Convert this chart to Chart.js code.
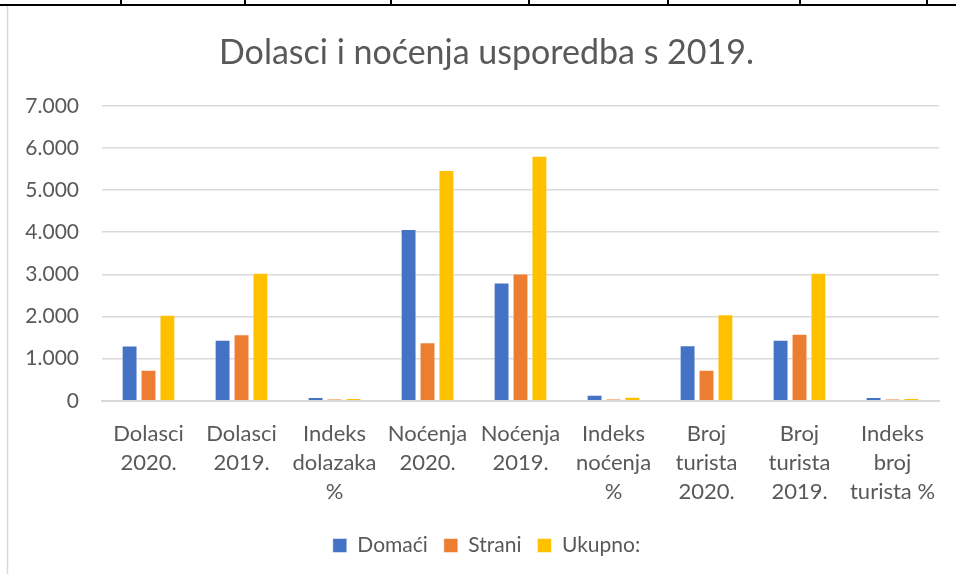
<!DOCTYPE html>
<html>
<head>
<meta charset="utf-8">
<script src="https://cdn.jsdelivr.net/npm/chart.js@4"></script>
<style>
  body { margin: 0; background: #fff; }
  #wrap { width: 956px; height: 574px; }
</style>
</head>
<body>
<div id="wrap"><canvas id="myChart" width="956" height="574"></canvas></div>
<script>
const categories = [
  ['Dolasci', '2020.'], ['Dolasci', '2019.'], ['Indeks', 'dolazaka', '%'],
  ['Noćenja', '2020.'], ['Noćenja', '2019.'], ['Indeks', 'noćenja', '%'],
  ['Broj', 'turista', '2020.'], ['Broj', 'turista', '2019.'], ['Indeks', 'broj', 'turista %']
];
const domaci = [1310, 1450, 90, 4075, 2805, 145, 1320, 1450, 91];
const strani = [735, 1580, 47, 1390, 3020, 46, 735, 1590, 46];
const ukupno = [2045, 3040, 67, 5475, 5815, 94, 2055, 3040, 68];
const yTicks = [0, 1000, 2000, 3000, 4000, 5000, 6000, 7000];

const grey = '#595959';
const fontFam = 'Lato, "Open Sans", sans-serif';

// table cell borders above the chart and the chart's own left edge
const frame = {
  id: 'frame',
  afterLayout(chart) {
    // Excel centres title and legend a bit further right than the plot box
    if (chart.titleBlock) chart.titleBlock.left += 26;
    if (chart.legend) chart.legend.left += 26;
  },
  beforeDraw(chart) {
    const c = chart.ctx;
    c.save();
    c.fillStyle = '#fff';
    c.fillRect(0, 0, chart.width, chart.height);
    c.strokeStyle = '#000';
    c.lineWidth = 2;
    c.beginPath();
    c.moveTo(0, 5); c.lineTo(chart.width, 5);
    [121, 245, 391, 529, 668, 800, 927].forEach(x => { c.moveTo(x, 0); c.lineTo(x, 5); });
    c.stroke();
    c.strokeStyle = '#d9d9d9';
    c.lineWidth = 1.5;
    c.beginPath();
    c.moveTo(7.5, 6); c.lineTo(7.5, chart.height);
    c.stroke();
    c.restore();
  }
};

const fmt = v => String(v).replace(/\B(?=(\d{3})+(?!\d))/g, '.');

new Chart(document.getElementById('myChart'), {
  type: 'bar',
  data: {
    labels: categories,
    datasets: [
      { label: 'Domaći', data: domaci, backgroundColor: '#4472C4' },
      { label: 'Strani', data: strani, backgroundColor: '#ED7D31' },
      { label: 'Ukupno:', data: ukupno, backgroundColor: '#FFC000' }
    ]
  },
  options: {
    responsive: false,
    animation: false,
    layout: { padding: { left: 8, right: 17, top: 0, bottom: 8 } },
    datasets: {
      bar: {
        categoryPercentage: 0.61,
        barPercentage: 0.84,
        borderWidth: 1,
        borderColor: 'rgba(255,255,255,0.5)'
      }
    },
    plugins: {
      title: {
        display: true,
        text: 'Dolasci i noćenja usporedba s 2019.',
        color: grey,
        font: { family: fontFam, size: 34, weight: 'normal', lineHeight: 1.2 },
        padding: { top: 33, bottom: 32 }
      },
      legend: {
        position: 'bottom',
        labels: {
          color: grey,
          font: { family: fontFam, size: 21 },
          boxWidth: 14,
          boxHeight: 14,
          padding: 16
        }
      },
      tooltip: { enabled: false }
    },
    scales: {
      x: {
        grid: { display: false },
        border: { color: '#d9d9d9', width: 2 },
        afterFit: s => { s.height += 2; },
        ticks: {
          color: grey,
          font: { family: fontFam, size: 22, lineHeight: 1.336 },
          padding: 10,
          maxRotation: 0,
          autoSkip: false
        }
      },
      y: {
        min: 0,
        max: 7000,
        afterBuildTicks: s => { s.ticks = yTicks.map(v => ({ value: v })); },
        afterFit: s => { s.width = 94; },
        grid: { color: '#d9d9d9', lineWidth: 1.5, drawTicks: false },
        border: { display: false },
        ticks: {
          color: grey,
          font: { family: fontFam, size: 21 },
          padding: 23,
          callback: v => fmt(v)
        }
      }
    }
  },
  plugins: [frame]
});
</script>
</body>
</html>
